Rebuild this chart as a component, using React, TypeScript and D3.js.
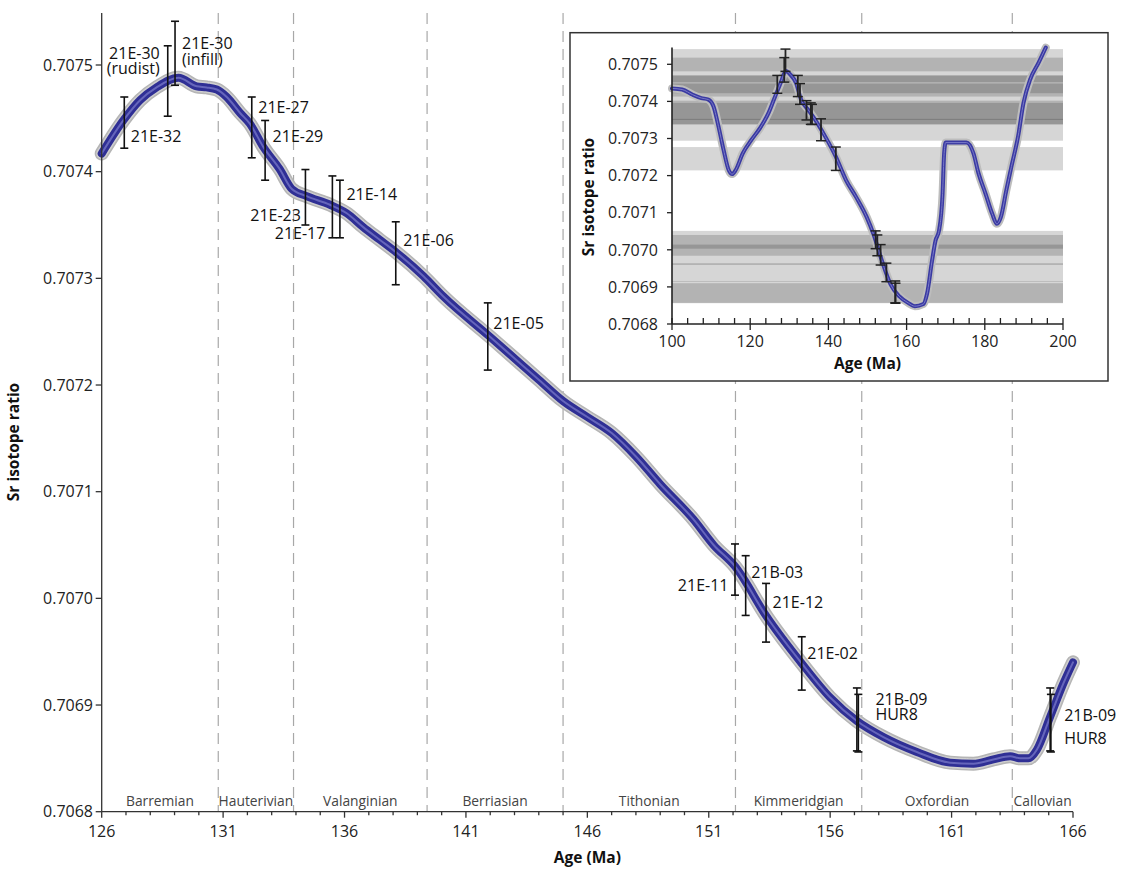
import React from 'react';
import * as d3 from 'd3';

// ---------- data ----------
const curveAges = [126.0, 126.89, 127.58, 128.26, 129.16, 129.91, 130.32, 130.74, 131.15, 131.7, 132.1, 132.66, 133.34, 133.82, 134.44, 135.4, 136.09, 136.77, 137.46, 138.15, 139.25, 140.07, 142.0, 144.0, 145.0, 146.0, 147.0, 148.0, 149.0, 150.37, 151.2, 152.08, 153.38, 154.83, 156.0, 157.1, 158.19, 159.57, 160.94, 161.9, 162.72, 163.41, 163.82, 164.16, 164.51, 165.06, 165.6, 166.0];
const curveRatios = [0.707417, 0.707448, 0.707467, 0.707479, 0.707488, 0.70748, 0.707479, 0.707477, 0.70747, 0.707455, 0.707445, 0.707423, 0.707402, 0.707384, 0.707377, 0.707369, 0.707361, 0.707348, 0.707336, 0.707324, 0.707302, 0.707283, 0.707245, 0.707205, 0.707185, 0.70717, 0.707155, 0.707133, 0.707107, 0.707074, 0.70705, 0.70703, 0.706983, 0.706939, 0.706907, 0.706885, 0.70687, 0.706856, 0.706846, 0.706845, 0.706849, 0.706852, 0.70685, 0.70685, 0.706858, 0.706889, 0.70692, 0.70694];

const insetAges = [100, 102.6, 105.3, 107.5, 109.3, 110.6, 111.9, 113.2, 114.5, 115.4, 116.3, 118.1, 120.3, 122.5, 124.7, 126.4, 127.8, 129.1, 130.2, 131.7, 133.0, 134.8, 136.6, 139.2, 141.9, 144.5, 147.1, 149.8, 151.5, 153.7, 155.9, 158.1, 160.4, 162.1, 164.3, 165.2, 166.5, 167.4, 168.3, 169.2, 169.6, 170.0, 175.3, 177.1, 178.4, 180.2, 181.9, 183.1, 184.1, 185.5, 186.8, 188.5, 189.9, 191.6, 193.8, 195.6];
const insetRatios = [0.707435, 0.707432, 0.707418, 0.707409, 0.707405, 0.707387, 0.707332, 0.707269, 0.707215, 0.707204, 0.707215, 0.70726, 0.707296, 0.707328, 0.707369, 0.707414, 0.70745, 0.707482, 0.707473, 0.70745, 0.707405, 0.707378, 0.707351, 0.707305, 0.707251, 0.707188, 0.707142, 0.707088, 0.707043, 0.70697, 0.706907, 0.706875, 0.706857, 0.706848, 0.706854, 0.70688, 0.70697, 0.707025, 0.707052, 0.707151, 0.70726, 0.707289, 0.707289, 0.70726, 0.707206, 0.707151, 0.707097, 0.70707, 0.707088, 0.70716, 0.707224, 0.707305, 0.707396, 0.707459, 0.707505, 0.707545];

const sampleNames = ['21E-32', '21E-30\n(rudist)', '21E-30\n(infill)', '21E-27', '21E-29', '21E-23', '21E-17', '21E-14', '21E-06', '21E-05', '21E-11', '21B-03', '21E-12', '21E-02', '21B-09', 'HUR8', '21B-09', 'HUR8'];
const sampleAges = [126.93, 128.72, 129.02, 132.18, 132.73, 134.39, 135.5, 135.81, 138.11, 141.9, 152.08, 152.52, 153.36, 154.83, 157.1, 157.16, 165.06, 165.09];
const sampleLow = [0.707422, 0.707452, 0.707481, 0.707413, 0.707392, 0.70735, 0.707338, 0.707338, 0.707294, 0.707214, 0.707003, 0.706984, 0.706959, 0.706914, 0.706857, 0.706856, 0.706857, 0.706856];
const sampleHigh = [0.70747, 0.707518, 0.707541, 0.70747, 0.707448, 0.707402, 0.707396, 0.707392, 0.707353, 0.707277, 0.707051, 0.70704, 0.707014, 0.706964, 0.706916, 0.70691, 0.706916, 0.70691];
const sampleInInset = [true, true, true, true, true, true, true, true, true, true, true, true, true, true, true, true, false, false];

const stageNames = ['Barremian', 'Hauterivian', 'Valanginian', 'Berriasian', 'Tithonian', 'Kimmeridgian', 'Oxfordian', 'Callovian'];
const stageBoundaries = [130.8, 133.9, 139.4, 145.0, 152.1, 157.3, 163.5];

const mainXTicks = [126, 131, 136, 141, 146, 151, 156, 161, 166];
const mainYTicks = [0.7068, 0.7069, 0.707, 0.7071, 0.7072, 0.7073, 0.7074, 0.7075];
const insetXTicks = [100, 120, 140, 160, 180, 200];
const insetYTicks = [0.7068, 0.7069, 0.707, 0.7071, 0.7072, 0.7073, 0.7074, 0.7075];

// ---------- layout (label placement relative to bar top, px) ----------
const labelAnchor = ['start', 'end', 'start', 'start', 'start', 'end', 'end', 'start', 'start', 'start', 'end', 'start', 'start', 'start', 'start', 'start', 'start', 'start'];
const labelDx = [6.5, -8, 7, 6.5, 7.5, -4.5, -7, 6.5, 7.5, 5.5, -6.5, 5.5, 6.5, 5.5, 18.5, 18.5, 14, 14];
const labelDy = [39, 7, 21.5, 10, 16, 46, 57.5, 14.5, 18.5, 20, 41.5, 16.5, 18.5, 16.5, 11, 0, 27.5, 0];
const labelLineGap = [16, 15.5, 16.5, 16, 16, 16, 16, 16, 16, 16, 16, 16, 16, 16, 15, 15, 22.5, 22.5];
// label of the next sample is written as another line of this one
const labelJoinNext = [false, false, false, false, false, false, false, false, false, false, false, false, false, false, true, false, true, false];

const FONT = "'Open Sans', 'Noto Sans', sans-serif";

export default function App() {
  const W = 1122, H = 869;
  const x = d3.scaleLinear().domain([126, 166]).range([101.7, 1073]);
  const y = d3.scaleLinear().domain([0.7068, 0.7075]).range([811.7, 65]);
  const plotTop = 13;
  const ix = d3.scaleLinear().domain([100, 200]).range([672, 1063]);
  const iy = d3.scaleLinear().domain([0.7068, 0.7075]).range([324, 64.3]);
  const insetTop = 47.5;

  const mainLine = d3.line<number>()
    .x((d, i) => x(curveAges[i]))
    .y((d) => y(d))
    .curve(d3.curveMonotoneX);
  const mainPath = mainLine(curveRatios) || '';

  const insetLine = d3.line<number>()
    .x((d, i) => ix(insetAges[i]))
    .y((d) => iy(d))
    .curve(d3.curveMonotoneX);
  const insetPath = insetLine(insetRatios) || '';

  const minorTicks = d3.range(126, 167, 1);
  const insetMinor = d3.range(100, 201, 4);
  const stageEdges = [126, ...stageBoundaries, 166];

  return (
    <svg width={W} height={H} style={{ position: 'absolute', left: 0, top: 0, background: '#fff' }} fontFamily={FONT}>
      <rect x={0} y={0} width={W} height={H} fill="#fff" />
      {stageBoundaries.map((b, i) => (
        <line key={'sb' + i} x1={x(b)} x2={x(b)} y1={plotTop} y2={y(0.7068)} stroke="#a8a8a8" strokeWidth={1.2} strokeDasharray="11,7" />
      ))}
      {stageNames.map((s, i) => (
        <text key={'st' + i} x={(x(stageEdges[i]) + x(stageEdges[i + 1])) / 2} y={806} textAnchor="middle" fontSize={13.8} fill="#444">{s}</text>
      ))}
      {/* main curve */}
      <path d={mainPath} fill="none" stroke="#b5b5b5" strokeWidth={14} strokeLinecap="round" />
      <path d={mainPath} fill="none" stroke="#cfcfcf" strokeWidth={11} strokeLinecap="round" strokeDasharray="1,2" />
      <path d={mainPath} fill="none" stroke="#2f2f95" strokeWidth={8} strokeLinecap="round" />
      <path d={mainPath} fill="none" stroke="#6666bb" strokeWidth={2} strokeLinecap="round" />
      {/* error bars */}
      {sampleNames.map((n, i) => {
        const bx = x(sampleAges[i]);
        const yt = y(sampleHigh[i]);
        const yb = y(sampleLow[i]);
        const skipLabel = i > 0 && labelJoinNext[i - 1];
        let lines = n.split('\n');
        if (labelJoinNext[i] && i + 1 < sampleNames.length) lines = lines.concat(sampleNames[i + 1].split('\n'));
        return (
          <g key={'eb' + i}>
            <line x1={bx} x2={bx} y1={yt} y2={yb} stroke="#111" strokeWidth={1.6} />
            <line x1={bx - 4} x2={bx + 4} y1={yt} y2={yt} stroke="#111" strokeWidth={1.6} />
            <line x1={bx - 4} x2={bx + 4} y1={yb} y2={yb} stroke="#111" strokeWidth={1.6} />
            {!skipLabel && (
              <text x={bx + labelDx[i]} y={yt + labelDy[i]} textAnchor={labelAnchor[i] as any} fontSize={16} fill="#111">
                {lines.map((l, j) => (
                  <tspan key={j} x={bx + labelDx[i]} dy={j === 0 ? '0.36em' : labelLineGap[i]}>{l}</tspan>
                ))}
              </text>
            )}
          </g>
        );
      })}
      {/* main axes */}
      <line x1={x(126)} x2={x(126)} y1={plotTop} y2={y(0.7068)} stroke="#333" strokeWidth={1.3} />
      <line x1={x(126)} x2={x(166)} y1={y(0.7068)} y2={y(0.7068)} stroke="#333" strokeWidth={1.3} />
      {mainYTicks.map((t, i) => (
        <g key={'yt' + i}>
          <line x1={x(126) - 6} x2={x(126)} y1={y(t)} y2={y(t)} stroke="#333" strokeWidth={1.3} />
          <text x={93} y={y(t)} dy="0.36em" textAnchor="end" fontSize={16} fill="#222">{t.toFixed(4)}</text>
        </g>
      ))}
      {minorTicks.map((t, i) => (
        <line key={'mx' + i} x1={x(t)} x2={x(t)} y1={y(0.7068)} y2={y(0.7068) + ((t - 126) % 5 === 0 ? 6 : 3.5)} stroke="#333" strokeWidth={1.3} />
      ))}
      {mainXTicks.map((t, i) => (
        <text key={'xt' + i} x={x(t)} y={837} textAnchor="middle" fontSize={16} fill="#222">{t}</text>
      ))}
      <text x={(x(126) + x(166)) / 2} y={863} textAnchor="middle" fontSize={15.5} fontWeight="bold" fill="#111">Age (Ma)</text>
      <text transform={`translate(19,442) rotate(-90)`} textAnchor="middle" fontSize={15.5} fontWeight="bold" fill="#111">Sr isotope ratio</text>

      {/* inset */}
      <rect x={570} y={32.7} width={538} height={348.3} fill="#fff" stroke="#333" strokeWidth={1.5} />
      {sampleNames.map((n, i) => sampleInInset[i] ? (
        <rect key={'band' + i} x={ix(100)} width={ix(200) - ix(100)} y={iy(sampleHigh[i])} height={iy(sampleLow[i]) - iy(sampleHigh[i])} fill="#000" fillOpacity={0.16} />
      ) : null)}
      <path d={insetPath} fill="none" stroke="#bdbdbd" strokeWidth={8} strokeLinecap="round" />
      <path d={insetPath} fill="none" stroke="#3a3aa2" strokeWidth={4} strokeLinecap="round" />
      <path d={insetPath} fill="none" stroke="#7a7ac8" strokeWidth={1} strokeLinecap="round" />
      {sampleNames.map((n, i) => {
        if (!sampleInInset[i]) return null;
        const bx = ix(sampleAges[i]);
        const yt = iy(sampleHigh[i]);
        const yb = iy(sampleLow[i]);
        return (
          <g key={'ieb' + i}>
            <line x1={bx} x2={bx} y1={yt} y2={yb} stroke="#222" strokeWidth={1.8} />
            <line x1={bx - 5} x2={bx + 5} y1={yt} y2={yt} stroke="#222" strokeWidth={1.5} />
            <line x1={bx - 5} x2={bx + 5} y1={yb} y2={yb} stroke="#222" strokeWidth={1.5} />
          </g>
        );
      })}
      <line x1={ix(100)} x2={ix(100)} y1={insetTop} y2={iy(0.7068)} stroke="#222" strokeWidth={1.6} />
      <line x1={ix(100)} x2={ix(200)} y1={iy(0.7068)} y2={iy(0.7068)} stroke="#222" strokeWidth={1.6} />
      {insetYTicks.map((t, i) => (
        <g key={'iyt' + i}>
          <line x1={ix(100) - 5} x2={ix(100)} y1={iy(t)} y2={iy(t)} stroke="#222" strokeWidth={1.3} />
          <text x={658} y={iy(t)} dy="0.36em" textAnchor="end" fontSize={16} fill="#222">{t.toFixed(4)}</text>
        </g>
      ))}
      {insetMinor.map((t, i) => (
        <line key={'imx' + i} x1={ix(t)} x2={ix(t)} y1={iy(0.7068) - 6} y2={iy(0.7068) + ((t - 100) % 20 === 0 ? 6 : 0)} stroke="#222" strokeWidth={1.3} />
      ))}
      {insetXTicks.map((t, i) => (
        <text key={'ixt' + i} x={ix(t)} y={347} textAnchor="middle" fontSize={16} fill="#222">{t}</text>
      ))}
      <text x={(ix(100) + ix(200)) / 2} y={369} textAnchor="middle" fontSize={15.5} fontWeight="bold" fill="#111">Age (Ma)</text>
      <text transform={`translate(594,197) rotate(-90)`} textAnchor="middle" fontSize={15.5} fontWeight="bold" fill="#111">Sr isotope ratio</text>
    </svg>
  );
}
